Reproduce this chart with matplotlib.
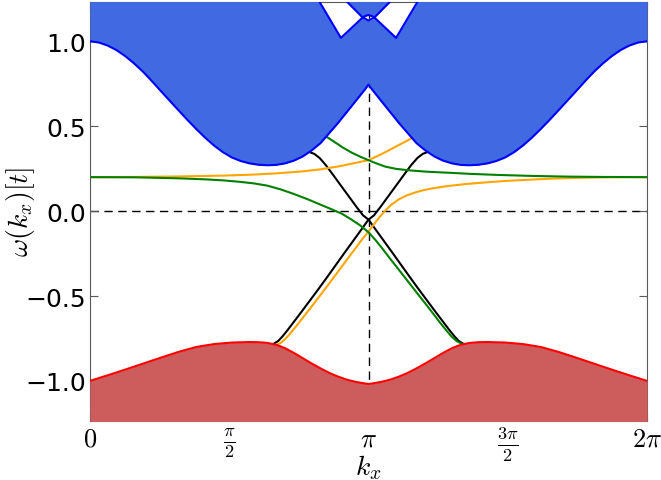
import numpy as np
import matplotlib
matplotlib.use("Agg")
import matplotlib.pyplot as plt

plt.rcParams['mathtext.fontset'] = 'cm'

PI = np.pi

# -----------------------------
# band edges
# -----------------------------
k_blue = [0.0, 0.1, 0.2, 0.3, 0.4, 0.5, 0.6, 0.7, 0.8, 0.9, 1.0, 1.1, 1.2, 1.3, 1.4, 1.5,
          1.6, 1.7, 1.8, 1.9, 2.0, 2.1, 2.2, 2.3, 2.4, 2.5, 2.6, 2.7, 2.8, 2.83, 2.9, 3.0,
          3.075, 3.1, PI,
          3.183, 3.208, 3.283, 3.383, 3.453, 3.483, 3.583, 3.683, 3.783, 3.883, 3.983, 4.083,
          4.183, 4.283, 4.383, 4.483, 4.583, 4.683, 4.783, 4.883, 4.983, 5.083, 5.183, 5.283,
          5.383, 5.483, 5.583, 5.683, 5.783, 5.883, 5.983, 6.083, 6.183, 2 * PI]
blue_lo = [1.0, 0.993, 0.975, 0.948, 0.912, 0.869, 0.82, 0.765, 0.707, 0.65, 0.593, 0.537,
           0.483, 0.432, 0.386, 0.347, 0.316, 0.295, 0.281, 0.273, 0.270, 0.272, 0.281, 0.297,
           0.322, 0.357, 0.400, 0.460, 0.52, 0.54, 0.585, 0.65, 0.699, 0.715, 0.745,
           0.715, 0.699, 0.65, 0.585, 0.54, 0.52, 0.460, 0.400, 0.357, 0.322, 0.297, 0.281,
           0.272, 0.270, 0.273, 0.281, 0.295, 0.316, 0.347, 0.386, 0.432, 0.483, 0.537, 0.593,
           0.65, 0.707, 0.765, 0.82, 0.869, 0.912, 0.948, 0.975, 0.993, 1.0]
blue_hi = [1.5, 1.5, 1.5, 1.5, 1.5, 1.5, 1.5, 1.5, 1.5, 1.5, 1.5, 1.5, 1.5, 1.5, 1.5, 1.5,
           1.5, 1.5, 1.5, 1.5, 1.5, 1.5, 1.5, 1.5, 1.5, 1.31, 1.223, 1.135, 1.047, 1.02, 1.054,
           1.103, 1.14, 1.135, 1.122,
           1.135, 1.14, 1.103, 1.054, 1.02, 1.047, 1.135, 1.223, 1.31, 1.5, 1.5, 1.5,
           1.5, 1.5, 1.5, 1.5, 1.5, 1.5, 1.5, 1.5, 1.5, 1.5, 1.5, 1.5,
           1.5, 1.5, 1.5, 1.5, 1.5, 1.5, 1.5, 1.5, 1.5, 1.5]

# upper band, only its bottom edge shows near pi
k_blue2 = [2.70, 2.80, 2.90, 3.0, 3.075, 3.1, PI, 3.183, 3.208, 3.283, 3.383, 3.483, 3.583]
blue2_lo = [1.337, 1.285, 1.232, 1.18, 1.14, 1.148, 1.155, 1.148, 1.14, 1.18, 1.232, 1.285,
            1.337]

k_red = [0.0, 0.2, 0.4, 0.6, 0.8, 1.0, 1.2, 1.4, 1.6, 1.8, 1.9, 2.0, 2.1, 2.2, 2.3, 2.4,
         2.5, 2.6, 2.7, 2.8, 2.9, 3.0, 3.1, PI,
         3.183, 3.283, 3.383, 3.483, 3.583, 3.683, 3.783, 3.883, 3.983, 4.083, 4.183, 4.283,
         4.383, 4.483, 4.683, 4.883, 5.083, 5.283, 5.483, 5.683, 5.883, 6.083, 2 * PI]
red_hi = [-1.0, -0.967, -0.933, -0.898, -0.863, -0.829, -0.800, -0.783, -0.774, -0.771,
          -0.772, -0.776, -0.787, -0.807, -0.835, -0.866, -0.897, -0.926, -0.953, -0.975,
          -0.993, -1.006, -1.015, -1.018,
          -1.015, -1.006, -0.993, -0.975, -0.953, -0.926, -0.897, -0.866, -0.835, -0.807,
          -0.787, -0.776, -0.772, -0.771, -0.774, -0.783, -0.800, -0.829, -0.863, -0.898,
          -0.933, -0.967, -1.0]

# -----------------------------
# in-gap states
# -----------------------------
k_blackA = [2.44, 2.47, 2.53, 2.59, 2.66, 2.73, 2.80, 2.87, 2.94, 3.01, 3.08, PI, 3.21, 3.30,
            3.40, 3.50, 3.60, 3.70, 3.80, 3.90, 3.98, 4.05, 4.11, 4.16, 4.21, 4.25]
blackA = [0.36, 0.349, 0.337, 0.313, 0.271, 0.222, 0.172, 0.122, 0.072, 0.022, -0.025, -0.05,
          -0.10, -0.165, -0.237, -0.310, -0.383, -0.455, -0.525, -0.595, -0.650, -0.698, -0.737,
          -0.765, -0.781, -0.80]
k_blackB = [2.03, 2.073, 2.123, 2.173, 2.233, 2.303, 2.383, 2.483, 2.583, 2.683, 2.783, 2.883,
            2.983, 3.073, PI, 3.203, 3.273, 3.343, 3.413, 3.483, 3.553, 3.623, 3.693, 3.753,
            3.813, 3.843]
blackB = [-0.80, -0.781, -0.765, -0.737, -0.698, -0.650, -0.595, -0.525, -0.455, -0.383,
          -0.310, -0.237, -0.165, -0.10, -0.05, -0.025, 0.022, 0.072, 0.122, 0.172, 0.222,
          0.271, 0.313, 0.337, 0.349, 0.36]

k_orange1 = [0.0, 0.5, 1.0, 1.5, 1.8, 2.1, 2.4, 2.6, 2.8, 2.95, 3.05, PI, 3.25, 3.35, 3.45,
             3.55, 3.63, 3.68]
orange1 = [0.20, 0.201, 0.204, 0.209, 0.214, 0.222, 0.234, 0.246, 0.263, 0.279, 0.29, 0.30,
           0.326, 0.352, 0.38, 0.407, 0.43, 0.45]
k_orange2 = [2.06, 2.106, 2.15, 2.2, 2.26, 2.33, 2.41, 2.50, 2.60, 2.70, 2.80, 2.90, 3.0, 3.07,
             PI, 3.21, 3.27, 3.33, 3.40, 3.48, 3.57, 3.67, 3.76, 3.85, 3.95, 4.04, 4.25, 4.46,
             4.7, 4.95, 5.2, 5.5, 5.8, 6.05, 2 * PI]
orange2 = [-0.80, -0.787, -0.777, -0.755, -0.72, -0.675, -0.622, -0.562, -0.494, -0.425,
           -0.355, -0.285, -0.215, -0.166, -0.12, -0.073, -0.033, 0.003, 0.038, 0.068, 0.092,
           0.110, 0.123, 0.133, 0.141, 0.148, 0.160, 0.169, 0.178, 0.185, 0.191, 0.196, 0.199,
           0.2, 0.2]

k_green1 = [2.62, 2.67, 2.75, 2.85, 2.95, 3.05, PI, 3.22, 3.33, 3.45, 3.6, 3.8, 4.04, 4.3,
            4.6, 5.0, 5.4, 5.8, 2 * PI]
green1 = [0.46, 0.437, 0.41, 0.375, 0.345, 0.32, 0.30, 0.283, 0.262, 0.249, 0.240, 0.232,
          0.226, 0.219, 0.213, 0.207, 0.203, 0.201, 0.20]
k_green2 = [0.0, 0.5, 1.0, 1.3, 1.5, 1.7, 1.85, 2.0, 2.15, 2.3, 2.45, 2.6, 2.72, 2.84, 2.95,
            3.05, PI, 3.22, 3.30, 3.40, 3.50, 3.60, 3.70, 3.80, 3.88, 3.95, 4.02, 4.08, 4.14,
            4.19, 4.23]
green2 = [0.20, 0.199, 0.193, 0.187, 0.181, 0.172, 0.163, 0.150, 0.128, 0.101, 0.071, 0.038,
          0.012, -0.015, -0.05, -0.085, -0.125, -0.17, -0.222, -0.29, -0.356, -0.423, -0.49,
          -0.556, -0.610, -0.658, -0.703, -0.740, -0.767, -0.780, -0.79]

xtick_pos = [0, PI / 2, PI, 3 * PI / 2, 2 * PI]
xtick_lab = [r'$0$', r'$\frac{\pi}{2}$', r'$\pi$', r'$\frac{3\pi}{2}$', r'$2\pi$']
ytick_pos = [-1.0, -0.5, 0.0, 0.5, 1.0]

# -----------------------------
# plot
# -----------------------------
fig = plt.figure(figsize=(6.61, 4.81), dpi=100)
ax = fig.add_axes([0.136, 0.123, 0.843, 0.871])

ax.axhline(0, color='black', lw=1.0, dashes=(6, 4), zorder=1)
ax.axvline(PI, color='black', lw=1.0, dashes=(6, 4), zorder=1)

ax.plot(k_blackA, blackA, color='black', lw=1.5, zorder=2)
ax.plot(k_blackB, blackB, color='black', lw=1.5, zorder=2)
ax.plot(k_orange1, orange1, color='orange', lw=1.5, zorder=2)
ax.plot(k_orange2, orange2, color='orange', lw=1.5, zorder=2)
ax.plot(k_green1, green1, color='green', lw=1.5, zorder=2)
ax.plot(k_green2, green2, color='green', lw=1.5, zorder=2)

ax.fill_between(k_blue, blue_lo, blue_hi, color='royalblue', lw=0, zorder=3)
ax.fill_between(k_blue2, blue2_lo, 1.5, color='royalblue', lw=0, zorder=3)
ax.plot(k_blue, blue_lo, color='blue', lw=1.5, zorder=4)
ax.plot(k_blue, blue_hi, color='blue', lw=1.5, zorder=4)
ax.plot(k_blue2, blue2_lo, color='blue', lw=1.5, zorder=4)

ax.fill_between(k_red, red_hi, -1.5, color='indianred', lw=0, zorder=3)
ax.plot(k_red, red_hi, color='red', lw=1.5, zorder=4)

ax.set_xlim(0, 2 * PI)
ax.set_ylim(-1.235, 1.232)
ax.set_xticks(xtick_pos)
ax.set_xticklabels(xtick_lab, fontsize=19)
ax.set_yticks(ytick_pos)
ax.tick_params(axis='y', labelsize=18, pad=3)
ax.tick_params(direction='in', top=True, right=True, length=6, color='0.35')
ax.tick_params(axis='x', pad=3)
for s in ax.spines.values():
    s.set_color('0.35')
    s.set_zorder(2.5)

ax.set_xlabel(r'$k_x$', fontsize=20)
ax.xaxis.set_label_coords(0.5, -0.074)
ax.set_ylabel(r'$\omega(k_x)[t]$', fontsize=20)
ax.yaxis.set_label_coords(-0.095, 0.5)

fig.savefig('out.png', dpi=100)
